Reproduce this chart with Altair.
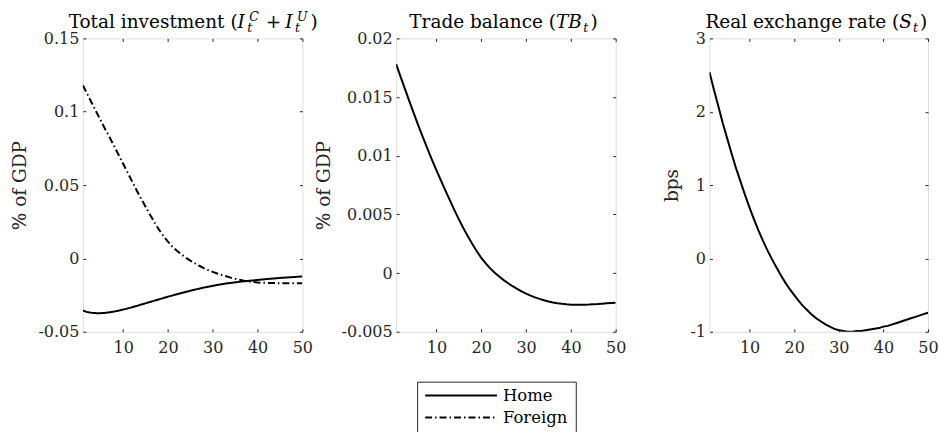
import altair as alt
import pandas as pd

# Impulse responses over a 50-period horizon
steps = list(range(1, 51))

inv_home = [
    -0.0355, -0.0366, -0.0371, -0.0373, -0.0373, -0.0371, -0.0367, -0.0362, -0.0356, -0.0349,
    -0.0341, -0.0333, -0.0324, -0.0315, -0.0306, -0.0297, -0.0288, -0.0279, -0.0270, -0.0261,
    -0.0253, -0.0244, -0.0236, -0.0228, -0.0220, -0.0213, -0.0206, -0.0199, -0.0193, -0.0187,
    -0.0181, -0.0176, -0.0171, -0.0167, -0.0163, -0.0159, -0.0156, -0.0153, -0.0150, -0.0147,
    -0.0144, -0.0141, -0.0138, -0.0136, -0.0133, -0.0131, -0.0129, -0.0127, -0.0125, -0.0123,
]
inv_foreign = [
    0.1180, 0.1120, 0.1060, 0.1000, 0.0940, 0.0880, 0.0825, 0.0765, 0.0705, 0.0645,
    0.0585, 0.0525, 0.0465, 0.0408, 0.0352, 0.0298, 0.0245, 0.0196, 0.0152, 0.0114,
    0.0080, 0.0052, 0.0027, 0.0005, -0.0015, -0.0033, -0.0050, -0.0066, -0.0080, -0.0092,
    -0.0103, -0.0113, -0.0122, -0.0131, -0.0139, -0.0146, -0.0152, -0.0157, -0.0161, -0.0164,
    -0.0166, -0.0167, -0.0168, -0.0168, -0.0169, -0.0169, -0.0169, -0.0169, -0.0169, -0.0169,
]
tb_home = [
    0.01780, 0.01672, 0.01565, 0.01459, 0.01355, 0.01253, 0.01154, 0.01058, 0.00965, 0.00876,
    0.00789, 0.00703, 0.00619, 0.00537, 0.00458, 0.00383, 0.00313, 0.00247, 0.00186, 0.00130,
    0.00082, 0.00040, 0.00003, -0.00030, -0.00060, -0.00087, -0.00112, -0.00135, -0.00156, -0.00175,
    -0.00192, -0.00207, -0.00220, -0.00232, -0.00242, -0.00250, -0.00257, -0.00262, -0.00266, -0.00269,
    -0.00270, -0.00270, -0.00269, -0.00268, -0.00266, -0.00264, -0.00261, -0.00258, -0.00255, -0.00252,
]
rer_home = [
    2.54, 2.30, 2.07, 1.84, 1.63, 1.42, 1.22, 1.04, 0.86, 0.69,
    0.53, 0.38, 0.24, 0.11, -0.01, -0.12, -0.23, -0.33, -0.42, -0.50,
    -0.58, -0.65, -0.71, -0.77, -0.82, -0.86, -0.90, -0.93, -0.96, -0.98,
    -0.99, -1.00, -1.00, -0.99, -0.99, -0.98, -0.97, -0.96, -0.95, -0.93,
    -0.92, -0.90, -0.88, -0.86, -0.84, -0.82, -0.80, -0.78, -0.76, -0.74,
]

series_names = ["Home", "Foreign"]
x_ticks = [10, 20, 30, 40, 50]
inv_ticks = [-0.05, 0, 0.05, 0.1, 0.15]
tb_ticks = [-0.005, 0, 0.005, 0.01, 0.015, 0.02]
rer_ticks = [-1, 0, 1, 2, 3]

FONT = "DejaVu Serif"
INK = "#262626"
TITLE_SIZE = 18.5
SCRIPT_SIZE = 12.5
TICK_SIZE = 16
TICK_LEN = 3

# Approximate advance widths (em) for laying out the math-style titles
ROMAN_EM = 0.512         # average roman glyph in the title font
ITALIC_EM = {"I": 0.50, "C": 0.76, "U": 0.84, "t": 0.41, "T": 0.69, "B": 0.74, "S": 0.69}
PLUS_EM = 0.84
PAREN_EM = 0.39


def long_frame(named):
    rows = []
    for name, vals in named:
        for t, v in zip(steps, vals):
            rows.append({"t": t, "value": v, "series": name})
    return pd.DataFrame(rows)


def italic_w(s, size):
    return sum(ITALIC_EM.get(ch, 0.6) for ch in s) * size


def title_marks(lead, math, panel_width):
    """Roman lead text is right-aligned at an anchor; math pieces follow it."""
    base = -10
    pieces = []
    x = 0.0
    for kind, content in math:
        if kind == "it":
            pieces.append((content, x, base, TITLE_SIZE, "italic"))
            x += italic_w(content, TITLE_SIZE) + 0.5
        elif kind == "supsub":
            sup, sub = content
            pieces.append((sup, x + 2.0, base - 7.5, SCRIPT_SIZE, "italic"))
            pieces.append((sub, x, base + 3.5, SCRIPT_SIZE, "italic"))
            x += max(italic_w(sup, SCRIPT_SIZE) + 2.0, italic_w(sub, SCRIPT_SIZE)) + 3.0
        elif kind == "sub":
            pieces.append((content, x + 0.5, base + 3.5, SCRIPT_SIZE, "italic"))
            x += italic_w(content, SCRIPT_SIZE) + 2.5
        elif kind == "op":
            x += 4.0
            pieces.append((content, x, base, TITLE_SIZE, "normal"))
            x += PLUS_EM * TITLE_SIZE + 4.0
        elif kind == "close":
            pieces.append((content, x, base, TITLE_SIZE, "normal"))
            x += PAREN_EM * TITLE_SIZE
    lead_w = len(lead) * ROMAN_EM * TITLE_SIZE
    anchor = (panel_width - (lead_w + x)) / 2.0 + lead_w
    marks = [
        alt.Chart(alt.Data(values=[{}]))
        .mark_text(text=lead, font=FONT, fontSize=TITLE_SIZE, align="right",
                   baseline="alphabetic", color="black")
        .encode(x=alt.value(anchor), y=alt.value(base))
    ]
    for txt, px, py, size, style in pieces:
        marks.append(
            alt.Chart(alt.Data(values=[{}]))
            .mark_text(text=txt, font=FONT, fontSize=size, fontStyle=style,
                       align="left", baseline="alphabetic", color="black")
            .encode(x=alt.value(anchor + px), y=alt.value(py))
        )
    return marks


def axes(yvals, ytitle):
    common = dict(offset=-TICK_LEN, tickSize=TICK_LEN, domain=False, grid=False,
                  tickColor=INK, tickWidth=1)
    bottom = alt.Axis(orient="bottom", values=x_ticks, labelFont=FONT, labelFontSize=TICK_SIZE,
                      labelColor=INK, labelPadding=8, labelFlush=False, title=None, **common)
    top = alt.Axis(orient="top", values=x_ticks, labels=False, title=None, **common)
    left = alt.Axis(orient="left", values=yvals, labelFont=FONT, labelFontSize=TICK_SIZE,
                    labelColor=INK, labelPadding=4, labelExpr="toString(datum.value)",
                    title=ytitle, titleFont=FONT, titleFontSize=TITLE_SIZE,
                    titleFontWeight="normal", titleColor=INK, titlePadding=8, **common)
    right = alt.Axis(orient="right", values=yvals, labels=False, title=None, **common)
    return bottom, top, left, right


dash_scale = alt.Scale(domain=series_names, range=[[1, 0], [7, 3, 1.5, 3]])

legend = alt.Legend(
    orient="none", legendX=335, legendY=344, title=None,
    symbolType="stroke", symbolSize=72 * 72, symbolStrokeWidth=2,
    symbolStrokeColor="black", clipHeight=12, rowPadding=5, padding=8,
    symbolOffset=-1, labelOffset=5, labelFont=FONT, labelFontSize=16.5,
    labelColor="black", strokeColor=INK, fillColor="white",
)


def panel(df, ydomain, yvals, ytitle, lead, math, width, with_legend):
    bottom, top, left, right = axes(yvals, ytitle)
    xs = alt.Scale(domain=[1, 50], nice=False, zero=False)
    ys = alt.Scale(domain=ydomain, nice=False, zero=False)
    enc = dict(
        x=alt.X("t:Q", scale=xs, axis=bottom),
        y=alt.Y("value:Q", scale=ys, axis=left),
    )
    if with_legend:
        enc["strokeDash"] = alt.StrokeDash("series:N", scale=dash_scale, legend=legend)
    lines = alt.Chart(df).mark_line(color="black", strokeWidth=2, clip=True).encode(**enc)
    mirror = alt.Chart(df).mark_line(opacity=0).encode(
        x=alt.X("t:Q", scale=xs, axis=top),
        y=alt.Y("value:Q", scale=ys, axis=right),
    )
    return (
        alt.layer(lines, mirror, *title_marks(lead, math, width))
        .resolve_axis(x="independent", y="independent")
        .properties(width=width, height=294)
    )


p1 = panel(
    long_frame([("Home", inv_home), ("Foreign", inv_foreign)]),
    [-0.05, 0.15], inv_ticks, "% of GDP",
    "Total investment (",
    [("it", "I"), ("supsub", ("C", "t")), ("op", "+"), ("it", "I"), ("supsub", ("U", "t")),
     ("close", ")")],
    220, True,
)
p2 = panel(
    long_frame([("Home", tb_home)]),
    [-0.005, 0.02], tb_ticks, "% of GDP",
    "Trade balance (",
    [("it", "TB"), ("sub", "t"), ("close", ")")],
    220, False,
)
p3 = panel(
    long_frame([("Home", rer_home)]),
    [-1, 3], rer_ticks, "bps",
    "Real exchange rate (",
    [("it", "S"), ("sub", "t"), ("close", ")")],
    219, False,
)

chart = (
    alt.hconcat(p1, p2, p3, spacing=94, bounds="flush")
    .resolve_scale(x="independent", y="independent", strokeDash="shared")
    .resolve_legend(strokeDash="shared")
    .properties(padding={"left": 10, "top": 10, "right": 0, "bottom": 0},
                autosize=alt.AutoSizeParams(type="pad"))
    .configure_view(stroke=INK, strokeWidth=1)
    .configure(background="white")
)

chart.save("out.html", embed_options={"renderer": "svg", "actions": False})
